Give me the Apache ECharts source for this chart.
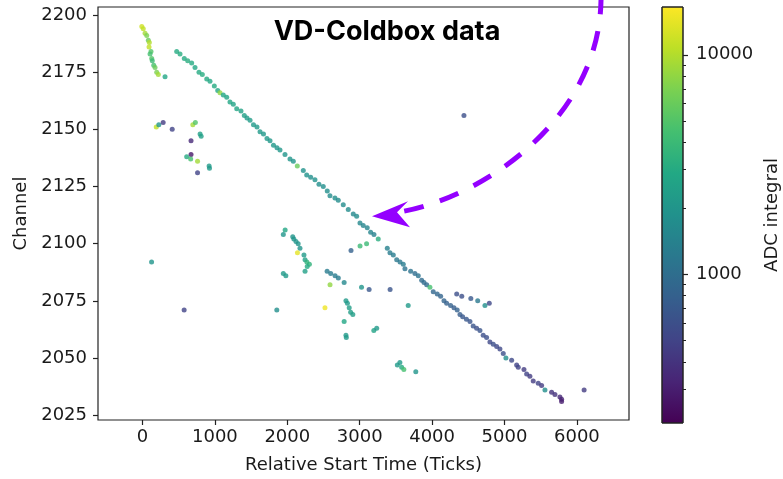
<!DOCTYPE html>
<html>
<head>
<meta charset="utf-8">
<script src="https://cdn.jsdelivr.net/npm/echarts@6/dist/echarts.min.js"></script>
<style>
  html, body { margin: 0; padding: 0; background: #fff; }
  #chart { width: 783px; height: 479px; }
</style>
</head>
<body>
<div id="chart"></div>
<script>
// hook of hits near t = 0
const hookTicks = [-10, 10, 35, 58, 80, 94, 90, 117, 104, 127, 135, 155, 173, 196, 218, 311]
const hookChannel = [2195, 2194, 2192, 2191, 2189, 2188, 2186, 2184, 2183, 2181, 2180, 2178, 2177, 2175, 2174, 2173]
const hookAdc = [12000, 11000, 9000, 7000, 6000, 10000, 11000, 5000, 4500, 5000, 4000, 4500, 6000, 7000, 9000, 2800]

// main diagonal track
const trackTicks = [
  472, 518, 577, 624, 679, 725, 780, 826, 887, 932, 992, 1039, 1070, 1116, 1163, 1208, 1254, 1301, 1360, 1406,
  1443, 1485, 1533, 1581, 1623, 1671, 1719, 1761, 1809, 1857, 1899, 1968, 2037, 2083, 2138, 2221, 2268, 2323,
  2382, 2437, 2497, 2552, 2589, 2658, 2704, 2773, 2842, 2911, 2958,
  3004, 3049, 3104, 3151, 3197, 3256, 3381,
  3418, 3464, 3511, 3557, 3602, 3625, 3704, 3763, 3809, 3856, 3888, 3925, 3970, 4016, 4071, 4118, 4164, 4201,
  4256, 4302, 4347, 4385, 4422, 4474,
  4523, 4568, 4615, 4661, 4706, 4753, 4799, 4845, 4892, 4937, 4983, 5020, 5099, 5168, 5190, 5269, 5306, 5351,
  5397, 5466, 5513, 5559, 5651, 5697, 5766, 5789, 5789
]
const trackChannel = [
  2184, 2183, 2181, 2180, 2179, 2177, 2175, 2174, 2172, 2171, 2169, 2167, 2166, 2165, 2164, 2162, 2161, 2159, 2158, 2156,
  2155, 2154, 2152, 2151, 2149, 2148, 2146, 2145, 2143, 2142, 2141, 2139, 2137, 2136, 2134, 2132, 2130, 2129,
  2128, 2126, 2125, 2123, 2121, 2120, 2119, 2117, 2115, 2113, 2112,
  2109, 2108, 2107, 2105, 2104, 2102, 2098,
  2096, 2095, 2093, 2092, 2091, 2089, 2088, 2087, 2086, 2084, 2083, 2082, 2081, 2079, 2078, 2077, 2075, 2074,
  2073, 2072, 2071, 2069, 2068, 2067,
  2066, 2064, 2063, 2062, 2060, 2059, 2057, 2056, 2055, 2054, 2052, 2050, 2049, 2047, 2046, 2045, 2043, 2042,
  2040, 2039, 2038, 2036, 2035, 2034, 2033, 2032, 2031
]
const trackAdc = [
  3000, 3100, 3000, 3200, 3000, 2900, 3000, 3100, 3000, 2900, 3000, 2800, 8000, 2800, 2700, 2800, 2600, 2700, 2600, 2500,
  2300, 2300, 2200, 2200, 2200, 2100, 2200, 2100, 2100, 2000, 2100, 2000, 2000, 2000, 6000, 1900, 1900, 1800,
  1900, 1800, 1800, 1800, 1700, 1800, 1700, 1700, 1700, 1600, 1700,
  1600, 1500, 1500, 1500, 1400, 3200, 1400,
  1300, 1300, 1200, 1200, 1300, 1100, 1100, 1000, 1100, 1000, 1000, 950, 4500, 900, 900, 850, 850, 800,
  800, 750, 800, 750, 700, 700,
  650, 650, 600, 650, 600, 600, 550, 600, 550, 550, 600, 1800, 550, 500, 500, 450, 500, 450,
  450, 500, 450, 1800, 400, 400, 350, 320, 300
]

// stray hits / short tracks
const strayTicks = [
  190, 225, 285, 410, 695, 730, 795, 810, 670, 670, 610, 665, 760, 920, 925, 760,
  125, 575, 1855, 4440, 6100,
  1945, 1970, 2075, 2090, 2120, 2150, 2175, 2140, 2230, 2245, 2270, 2305, 2275, 2245, 1945, 1980,
  2550, 2600, 2660, 2705, 2785, 2590, 2520, 2810, 2830, 2855, 2875, 2905, 2785, 2810, 2815,
  3025, 3130, 3420, 3195, 3235, 3670, 3520, 3555, 3580, 3610, 3775,
  2880, 3005, 3095,
  4340, 4410, 4535, 4630, 4730, 4790
]
const strayChannel = [
  2151, 2152, 2153, 2150, 2152, 2153, 2148, 2147, 2145, 2139, 2138, 2137, 2136, 2134, 2133, 2131,
  2092, 2071, 2071, 2156, 2036,
  2104, 2106, 2103, 2102, 2101, 2100, 2098, 2096, 2095, 2093, 2092, 2091, 2090, 2088, 2087, 2086,
  2088, 2087, 2086, 2085, 2083, 2082, 2072, 2075, 2074, 2072, 2070, 2069, 2066, 2060, 2059,
  2081, 2080, 2080, 2062, 2063, 2073, 2047, 2048, 2046, 2045, 2044,
  2097, 2099, 2100,
  2078, 2077, 2076, 2075, 2073, 2074
]
const strayAdc = [
  11000, 2000, 450, 500, 9000, 5000, 2500, 2500, 350, 280, 3000, 4500, 9000, 2200, 2200, 500,
  2000, 500, 1800, 600, 450,
  2000, 2800, 2000, 2000, 2000, 2000, 2000, 14000, 2200, 2500, 3500, 3500, 3000, 2500, 2200, 2200,
  1300, 1300, 1300, 1300, 1600, 8000, 15000, 2200, 2200, 2400, 2400, 2400, 2800, 2200, 2200,
  2000, 700, 650, 2600, 2200, 2200, 2200, 2200, 3000, 4500, 2000,
  800, 4000, 4000,
  600, 600, 700, 1200, 1800, 550
]

const xTicks = [0, 1000, 2000, 3000, 4000, 5000, 6000]
const yTicks = [2025, 2050, 2075, 2100, 2125, 2150, 2175, 2200]
const cbMajor = [1000, 10000]
const cbMinor = [300, 400, 500, 600, 700, 800, 900, 2000, 3000, 4000, 5000, 6000, 7000, 8000, 9000]
const cbRange = [210.6, 16500]

const viridis = ['#440154', '#482475', '#414487', '#355f8d', '#2a788e', '#21918c',
  '#22a884', '#44bf70', '#7ad151', '#bddf26', '#fde725']

const arrowTip = [3170, 2112]

const points = []
const addGroup = (xs, ys, vs) => xs.forEach((x, i) => points.push([x, ys[i], Math.log10(vs[i])]))
addGroup(hookTicks, hookChannel, hookAdc)
addGroup(trackTicks, trackChannel, trackAdc)
addGroup(strayTicks, strayChannel, strayAdc)

const font = 'DejaVu Sans'
const textColor = '#1a1a1a'
const cbLo = Math.log10(cbRange[0])
const cbHi = Math.log10(cbRange[1])
const plain = v => String(Math.round(v))

const chart = echarts.init(document.getElementById('chart'))

const title = {
  type: 'text', x: 387, y: 32, z: 10,
  style: {
    text: 'VD-Coldbox data', fill: '#000',
    font: 'bold 27px Inter', textAlign: 'center', textVerticalAlign: 'middle'
  }
}

const option = {
  animation: false,
  backgroundColor: '#fff',
  grid: [
    { left: 98, top: 7, width: 531, height: 415, show: true, borderColor: '#222', borderWidth: 1.2 },
    { left: 662, top: 7, width: 21, height: 416, show: false }
  ],
  xAxis: [
    {
      type: 'value', gridIndex: 0, min: -615, max: 6720,
      name: 'Relative Start Time (Ticks)', nameLocation: 'middle', nameGap: 36,
      nameTextStyle: { fontFamily: font, fontSize: 18, color: textColor },
      axisLine: { show: false, onZero: false },
      axisTick: { show: true, length: 5, lineStyle: { color: '#222', width: 1.2 }, customValues: xTicks },
      axisLabel: { fontFamily: font, fontSize: 18, color: textColor, margin: 8, customValues: xTicks, formatter: plain },
      splitLine: { show: false }
    },
    { type: 'value', gridIndex: 1, min: 0, max: 1, show: false }
  ],
  yAxis: [
    {
      type: 'value', gridIndex: 0, min: 2022.9, max: 2203.5,
      name: 'Channel', nameLocation: 'middle', nameGap: 68, nameRotate: 90,
      nameTextStyle: { fontFamily: font, fontSize: 18, color: textColor },
      axisLine: { show: false, onZero: false },
      axisTick: { show: true, length: 5, lineStyle: { color: '#222', width: 1.2 }, customValues: yTicks },
      axisLabel: { fontFamily: font, fontSize: 18, color: textColor, margin: 11, customValues: yTicks, formatter: plain },
      splitLine: { show: false }
    },
    {
      type: 'value', gridIndex: 1, min: cbLo, max: cbHi, position: 'right',
      name: 'ADC integral', nameLocation: 'middle', nameGap: 80, nameRotate: 90,
      nameTextStyle: { fontFamily: font, fontSize: 18, color: textColor },
      axisLine: { show: false, onZero: false },
      axisTick: { show: true, length: 5, lineStyle: { color: '#222', width: 1.2 }, customValues: cbMajor.map(Math.log10) },
      axisLabel: {
        fontFamily: font, fontSize: 18, color: textColor, margin: 13,
        customValues: cbMajor.map(Math.log10),
        formatter: v => plain(Math.pow(10, v))
      },
      splitLine: { show: false }
    },
    {
      type: 'value', gridIndex: 1, min: cbLo, max: cbHi, position: 'right', offset: 0,
      axisLine: { show: false, onZero: false },
      axisTick: { show: true, length: 3, lineStyle: { color: '#222', width: 1 }, customValues: cbMinor.map(Math.log10) },
      axisLabel: { show: false },
      splitLine: { show: false }
    }
  ],
  visualMap: {
    type: 'continuous', show: false, seriesIndex: 0, dimension: 2,
    min: cbLo, max: cbHi, inRange: { color: viridis }
  },
  series: [
    {
      type: 'scatter', xAxisIndex: 0, yAxisIndex: 0,
      symbolSize: 5, data: points, silent: true
    },
    {
      type: 'custom', xAxisIndex: 1, yAxisIndex: 1, silent: true,
      data: [[0, cbLo, cbHi]],
      renderItem: (params, api) => {
        const a = api.coord([0, api.value(2)])
        const b = api.coord([1, api.value(1)])
        return {
          type: 'rect',
          shape: { x: a[0], y: a[1], width: b[0] - a[0], height: b[1] - a[1] },
          style: {
            fill: new echarts.graphic.LinearGradient(0, 1, 0, 0,
              viridis.map((c, i) => ({ offset: i / (viridis.length - 1), color: c }))),
            stroke: '#222', lineWidth: 1
          }
        }
      }
    }
  ],
  graphic: [title]
}

chart.setOption(option)

// dashed arrow pointing at the track
const tip = chart.convertToPixel({ gridIndex: 0 }, arrowTip)
const at = (dx, dy) => [tip[0] + dx, tip[1] + dy]
const p0 = at(229, -222), p1 = at(231, -97), p2 = at(108, -17), p3 = at(26, -4)
const violet = '#9400ff'
chart.setOption({
  graphic: [
    title,
    {
      type: 'bezierCurve', z: 20, silent: true,
      shape: { x1: p0[0], y1: p0[1], cpx1: p1[0], cpy1: p1[1], cpx2: p2[0], cpy2: p2[1], x2: p3[0], y2: p3[1] },
      style: { stroke: violet, lineWidth: 5, lineDash: [20, 17], fill: null }
    },
    {
      type: 'polygon', z: 21, silent: true,
      shape: { points: [at(0, 0), at(36, -15), at(25, -4), at(38, 11)] },
      style: { fill: violet }
    }
  ]
})
</script>
</body>
</html>
